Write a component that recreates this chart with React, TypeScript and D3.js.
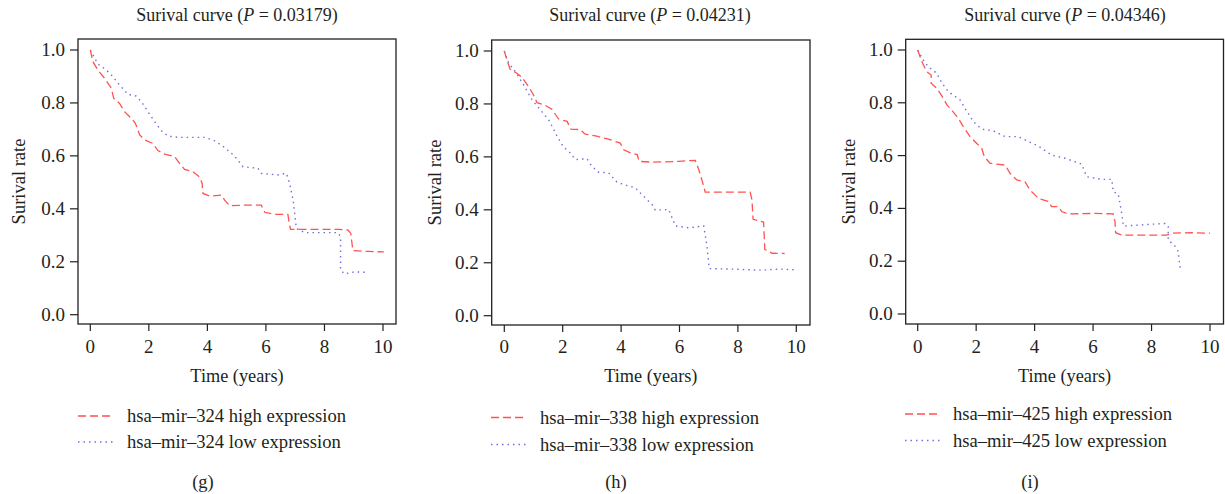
import React from "react";
import * as d3 from "d3";

// ---------- DATA ----------
const xTicks = [0, 2, 4, 6, 8, 10];
const yTicks = [0, 0.2, 0.4, 0.6, 0.8, 1.0];
const panelTitles = ["0.03179", "0.04231", "0.04346"];
const panelLetters = ["(g)", "(h)", "(i)"];
const mirNames = ["hsa\u2013mir\u2013324", "hsa\u2013mir\u2013338", "hsa\u2013mir\u2013425"];

// panel g
const gHighT = [0, 0.09, 0.26, 0.49, 0.72, 0.8, 1.0, 1.17, 1.4, 1.54, 1.69, 1.86, 2.14, 2.31, 2.54, 2.88, 3.05, 3.22, 3.51, 3.74, 3.82, 3.85, 4.08, 4.48, 4.59, 4.76, 5.27, 5.84, 5.96, 6.3, 6.75, 6.79, 6.84, 7.55, 8.46, 8.8, 8.9, 8.97, 9.49, 10.03];
const gHighS = [1.0, 0.956, 0.924, 0.893, 0.855, 0.817, 0.798, 0.767, 0.742, 0.723, 0.679, 0.66, 0.647, 0.62, 0.607, 0.597, 0.572, 0.549, 0.54, 0.519, 0.496, 0.458, 0.448, 0.452, 0.433, 0.412, 0.414, 0.414, 0.387, 0.379, 0.379, 0.351, 0.322, 0.322, 0.322, 0.32, 0.307, 0.242, 0.239, 0.237];
const gLowT = [0, 0.125, 0.26, 0.55, 0.72, 1.0, 1.29, 1.57, 1.74, 1.97, 2.2, 2.43, 2.65, 3.0, 3.9, 4.25, 4.59, 4.93, 5.22, 5.73, 5.84, 6.41, 6.7, 6.81, 6.93, 7.04, 7.32, 8.46, 8.55, 8.55, 8.69, 9.03, 9.4];
const gLowS = [1.0, 0.975, 0.947, 0.924, 0.906, 0.868, 0.832, 0.826, 0.805, 0.767, 0.729, 0.695, 0.675, 0.67, 0.67, 0.657, 0.632, 0.599, 0.559, 0.553, 0.534, 0.528, 0.534, 0.496, 0.433, 0.326, 0.31, 0.31, 0.295, 0.169, 0.154, 0.162, 0.16];

// panel h
const hHighT = [0, 0.09, 0.2, 0.43, 0.6, 0.83, 1.0, 1.12, 1.4, 1.63, 1.86, 2.15, 2.28, 2.6, 2.77, 3.17, 3.57, 3.97, 4.09, 4.32, 4.55, 4.62, 5.06, 5.97, 6.54, 6.66, 6.83, 6.88, 7.57, 8.42, 8.48, 8.52, 8.88, 8.92, 9.17, 9.6];
const hHighS = [1.0, 0.966, 0.931, 0.916, 0.901, 0.866, 0.834, 0.805, 0.795, 0.78, 0.743, 0.734, 0.705, 0.703, 0.686, 0.678, 0.667, 0.652, 0.627, 0.615, 0.609, 0.583, 0.58, 0.583, 0.587, 0.552, 0.489, 0.467, 0.467, 0.467, 0.439, 0.364, 0.354, 0.251, 0.236, 0.235];
const hLowT = [0, 0.15, 0.38, 0.66, 0.95, 1.23, 1.52, 1.81, 2.03, 2.26, 2.43, 2.83, 3.0, 3.23, 3.57, 3.86, 4.14, 4.49, 4.71, 5.06, 5.17, 5.63, 5.86, 6.32, 6.83, 6.94, 7.02, 7.8, 8.71, 9.5, 10.02];
const hLowS = [1.0, 0.954, 0.922, 0.872, 0.816, 0.778, 0.74, 0.678, 0.637, 0.615, 0.59, 0.593, 0.565, 0.542, 0.54, 0.504, 0.494, 0.483, 0.458, 0.42, 0.399, 0.401, 0.339, 0.332, 0.339, 0.263, 0.178, 0.176, 0.172, 0.176, 0.173];

// panel i
const iHighT = [0, 0.14, 0.31, 0.46, 0.46, 0.65, 0.88, 1.0, 1.16, 1.39, 1.56, 1.79, 2.02, 2.19, 2.28, 2.47, 2.99, 3.16, 3.39, 3.67, 3.84, 4.13, 4.47, 4.58, 4.81, 4.93, 5.15, 6.07, 6.69, 6.75, 6.77, 6.98, 7.78, 8.52, 8.69, 9.37, 10.0];
const iHighS = [1.0, 0.956, 0.918, 0.905, 0.874, 0.855, 0.817, 0.792, 0.773, 0.741, 0.71, 0.672, 0.646, 0.628, 0.596, 0.571, 0.564, 0.533, 0.508, 0.501, 0.47, 0.438, 0.426, 0.407, 0.407, 0.388, 0.379, 0.381, 0.379, 0.35, 0.308, 0.299, 0.299, 0.299, 0.306, 0.308, 0.306];
const iLowT = [0, 0.19, 0.36, 0.65, 0.82, 1.05, 1.45, 1.62, 1.9, 2.19, 2.59, 2.99, 3.44, 3.79, 4.13, 4.58, 5.04, 5.61, 5.78, 6.29, 6.64, 6.69, 6.86, 6.98, 7.04, 7.55, 8.46, 8.57, 8.57, 8.8, 8.92, 8.94, 9.0];
const iLowS = [1.0, 0.962, 0.937, 0.912, 0.876, 0.842, 0.811, 0.779, 0.729, 0.7, 0.694, 0.672, 0.672, 0.653, 0.636, 0.602, 0.59, 0.568, 0.52, 0.51, 0.51, 0.463, 0.455, 0.381, 0.333, 0.337, 0.343, 0.331, 0.28, 0.258, 0.236, 0.205, 0.16];

// ---------- LAYOUT ----------
const panels = [
  {
    frame: { l: 78, t: 39, r: 396, b: 324 }, x0: 90.3, x1: 383, y0: 314.7, y1: 50,
    titleX: 237, ylabX: 19, legLineX: 78, legTextX: 127, legY: [416, 442], letterX: 203,
    high: [gHighT, gHighS], low: [gLowT, gLowS],
  },
  {
    frame: { l: 491.7, t: 40, r: 810, b: 325 }, x0: 504.3, x1: 796.3, y0: 315.7, y1: 51,
    titleX: 650, ylabX: 435, legLineX: 491, legTextX: 540, legY: [417.5, 444.5], letterX: 616,
    high: [hHighT, hHighS], low: [hLowT, hLowS],
  },
  {
    frame: { l: 905.7, t: 39.3, r: 1223.5, b: 324 }, x0: 917.7, x1: 1210, y0: 314, y1: 50,
    titleX: 1065, ylabX: 849, legLineX: 905, legTextX: 953, legY: [414, 440.5], letterX: 1030,
    high: [iHighT, iHighS], low: [iLowT, iLowS],
  },
];

const RED = "#ff5252";
const BLUE = "#7070dd";
const INK = "#231f20";
const FONT = "Liberation Serif, DejaVu Serif, serif";

function Panel({ p, idx }: { p: any; idx: number }) {
  const x = d3.scaleLinear().domain([0, 10]).range([p.x0, p.x1]);
  const y = d3.scaleLinear().domain([0, 1]).range([p.y0, p.y1]);
  const mk = (ts: number[], ss: number[]) =>
    d3.line<[number, number]>().x((d) => x(d[0])).y((d) => y(d[1]))(ts.map((t, i) => [t, ss[i]]) as [number, number][]) || "";
  const f = p.frame;
  const midY = (f.t + f.b) / 2;
  const st = (fs: number) => ({ fontFamily: FONT, fontSize: fs } as React.CSSProperties);
  return (
    <g fill={INK}>
      <text x={p.titleX} y={20.5} textAnchor="middle" style={st(18)}>
        Surival curve (<tspan fontStyle="italic">P</tspan> = {panelTitles[idx]})
      </text>
      <rect x={f.l} y={f.t} width={f.r - f.l} height={f.b - f.t} fill="none" stroke={INK} strokeWidth={1.3} />
      {yTicks.map((v) => (
        <g key={"y" + v}>
          <line x1={f.l - 8} x2={f.l} y1={y(v)} y2={y(v)} stroke={INK} strokeWidth={1.2} />
          <text x={f.l - 13} y={y(v) + 6} textAnchor="end" style={st(19)}>{v.toFixed(1)}</text>
        </g>
      ))}
      {xTicks.map((v) => (
        <g key={"x" + v}>
          <line x1={x(v)} x2={x(v)} y1={f.b} y2={f.b + 7} stroke={INK} strokeWidth={1.2} />
          <text x={x(v)} y={353} textAnchor="middle" style={st(19)}>{v}</text>
        </g>
      ))}
      <text x={(f.l + f.r) / 2} y={381.5} textAnchor="middle" style={st(18.3)}>Time (years)</text>
      <text transform={`translate(${p.ylabX + 5.5},${midY}) rotate(-90)`} textAnchor="middle" style={st(18.5)}>Surival rate</text>
      <path d={mk(p.low[0], p.low[1])} fill="none" stroke={BLUE} strokeWidth={1.4} strokeDasharray="1.5,4" />
      <path d={mk(p.high[0], p.high[1])} fill="none" stroke={RED} strokeWidth={1.3} strokeDasharray="8,4" />
      <line x1={p.legLineX} x2={p.legLineX + 35} y1={p.legY[0]} y2={p.legY[0]} stroke={RED} strokeWidth={1.3} strokeDasharray="8,4" />
      <line x1={p.legLineX} x2={p.legLineX + 35} y1={p.legY[1]} y2={p.legY[1]} stroke={BLUE} strokeWidth={1.4} strokeDasharray="1.5,4" />
      <text x={p.legTextX} y={p.legY[0] + 6} style={st(18.6)}>{mirNames[idx]} high expression</text>
      <text x={p.legTextX} y={p.legY[1] + 6} style={st(18.6)}>{mirNames[idx]} low expression</text>
      <text x={p.letterX} y={487.5} textAnchor="middle" style={st(18.5)}>{panelLetters[idx]}</text>
    </g>
  );
}

export default function App() {
  return (
    <svg width={1225} height={494} style={{ position: "absolute", left: 0, top: 0, background: "#fff" }}>
      <rect width={1225} height={494} fill="#fff" />
      {panels.map((p, i) => (
        <Panel key={i} p={p} idx={i} />
      ))}
    </svg>
  );
}
